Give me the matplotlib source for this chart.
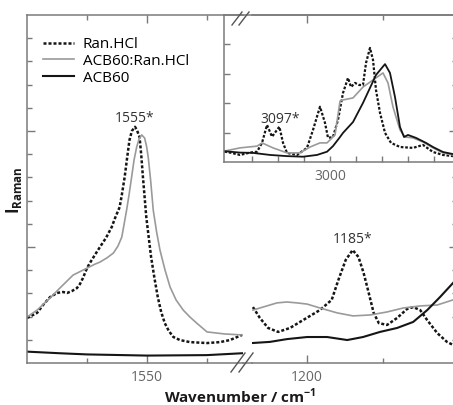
import matplotlib
matplotlib.use("Agg")
import matplotlib.pyplot as plt
from matplotlib.lines import Line2D
from matplotlib.ticker import FixedLocator, NullFormatter, FixedFormatter

plt.rcParams["font.family"] = ["Open Sans", "DejaVu Sans"]
plt.rcParams["mathtext.fontset"] = "custom"
plt.rcParams["mathtext.rm"] = "Open Sans"
plt.rcParams["mathtext.bf"] = "Open Sans:bold"

# ---------------- data ----------------
series_names = ["Ran.HCl", "ACB60:Ran.HCl", "ACB60"]

# 1600-1510 cm-1 window
lo_wn_ran = [1600.0, 1595.8, 1593.3, 1590.4, 1587.5, 1585.0, 1583.3, 1581.3, 1579.2,
             1577.9, 1576.7, 1575.0, 1573.8, 1571.7, 1569.6, 1567.1, 1564.7, 1563.3,
             1561.4, 1560.5, 1559.3, 1558.4, 1557.3, 1556.3, 1555.0, 1554.2, 1553.1,
             1552.4, 1551.7, 1551.0, 1550.3, 1549.3, 1548.3, 1546.9, 1545.5, 1544.1,
             1542.6, 1540.9, 1539.0, 1536.3, 1532.1, 1525.0, 1519.6, 1515.4, 1510.4]
lo_i_ran = [1.94, 2.16, 2.50, 2.84, 3.02, 3.06, 3.02, 3.10, 3.23,
            3.41, 3.66, 4.09, 4.31, 4.66, 5.00, 5.39, 5.86, 6.25,
            6.72, 7.24, 8.02, 8.75, 9.61, 10.00, 10.18, 10.04, 9.74,
            8.97, 8.02, 7.16, 6.29, 5.43, 4.57, 3.66, 2.84, 2.20,
            1.72, 1.38, 1.12, 0.99, 0.90, 0.86, 0.90, 0.99, 1.21]
lo_wn_mix = [1600.0, 1595.8, 1590.4, 1586.3, 1580.8, 1575.0, 1571.7, 1569.6, 1566.7,
             1564.0, 1562.1, 1560.5, 1559.6, 1558.5, 1557.5, 1556.4, 1555.4, 1554.3,
             1553.3, 1552.2, 1551.0, 1550.2, 1549.5, 1548.5, 1547.4, 1546.0, 1544.6,
             1542.5, 1540.4, 1537.9, 1534.9, 1532.1, 1529.3, 1525.0, 1517.5, 1510.4]
lo_i_mix = [1.98, 2.28, 2.80, 3.23, 3.79, 4.09, 4.26, 4.35, 4.53,
            4.74, 5.04, 5.43, 5.95, 6.59, 7.24, 8.02, 8.75, 9.31,
            9.66, 9.83, 9.70, 9.35, 8.88, 7.89, 6.59, 5.65, 4.87,
            4.01, 3.28, 2.72, 2.28, 1.98, 1.72, 1.34, 1.25, 1.21]
lo_wn_acb = [1600.0, 1586.3, 1575.0, 1550.0, 1525.0, 1510.4]
lo_i_acb = [0.49, 0.42, 0.37, 0.32, 0.34, 0.42]

# 1218-1151 cm-1 window
hi_wn_ran = [1217.8, 1215.5, 1212.8, 1209.5, 1205.6, 1201.3, 1195.8, 1191.9, 1189.7,
             1187.3, 1185.0, 1183.1, 1181.4, 1179.8, 1178.1, 1176.4, 1173.7, 1170.4,
             1167.1, 1165.1, 1162.8, 1160.5, 1157.2, 1154.0, 1152.0]
hi_i_ran = [2.41, 1.94, 1.51, 1.34, 1.51, 1.85, 2.28, 2.72, 3.58,
            4.44, 4.87, 4.57, 3.88, 3.06, 2.16, 1.72, 1.64, 1.94,
            2.33, 2.41, 2.28, 1.85, 1.29, 0.91, 0.78]
hi_wn_mix = [1217.8, 1214.5, 1209.9, 1206.6, 1203.3, 1200.0, 1195.7, 1190.1, 1184.9,
             1179.3, 1173.7, 1168.4, 1162.8, 1157.2, 1152.0]
hi_i_mix = [2.28, 2.41, 2.59, 2.63, 2.59, 2.54, 2.37, 2.16, 2.03,
            2.07, 2.20, 2.37, 2.46, 2.50, 2.72]
hi_wn_acb = [1218.1, 1212.2, 1206.6, 1200.0, 1193.4, 1186.8, 1181.6, 1176.0, 1170.4,
             1165.1, 1160.5, 1156.3, 1152.0]
hi_i_acb = [0.86, 0.91, 1.03, 1.12, 1.12, 0.99, 1.12, 1.34, 1.51,
            1.77, 2.28, 2.84, 3.45]

# 3200-2760 cm-1 window (inset)
ch_wn_ran = [3210.7, 3191.6, 3172.4, 3153.3, 3139.8, 3130.3, 3120.7, 3111.1, 3097.0,
             3090.0, 3082.4, 3063.2, 3044.1, 3032.6, 3019.2, 3009.6, 3003.8, 2994.3,
             2984.7, 2975.1, 2965.5, 2959.8, 2952.1, 2944.4, 2936.8, 2931.0, 2923.4,
             2917.6, 2911.9, 2904.2, 2894.6, 2883.1, 2865.9, 2841.0, 2821.8, 2802.7,
             2783.5, 2764.4]
ch_i_ran = [0.38, 0.32, 0.24, 0.32, 0.35, 0.65, 1.26, 0.86, 1.20,
            0.65, 0.31, 0.24, 0.48, 1.09, 1.88, 1.33, 0.82, 0.85,
            1.43, 2.35, 2.86, 2.55, 2.69, 2.62, 2.62, 3.37, 3.88,
            3.47, 2.45, 1.67, 0.99, 0.65, 0.51, 0.48, 0.58, 0.34,
            0.24, 0.20]
ch_wn_mix = [3210.7, 3172.4, 3139.8, 3130.3, 3109.2, 3082.4, 3057.5, 3038.3, 3019.2,
             3005.7, 2990.4, 2980.8, 2975.1, 2955.9, 2936.8, 2917.6, 2898.5, 2888.9,
             2879.3, 2865.9, 2856.3, 2841.0, 2821.8, 2802.7, 2783.5, 2764.4]
ch_i_mix = [0.34, 0.48, 0.54, 0.65, 0.48, 0.31, 0.31, 0.51, 0.65,
            0.65, 0.92, 2.07, 2.11, 2.18, 2.55, 2.79, 3.03, 2.69,
            1.87, 1.09, 0.85, 0.82, 0.68, 0.48, 0.31, 0.24]
ch_wn_acb = [3210.7, 3172.4, 3147.5, 3114.9, 3082.4, 3051.7, 3024.9, 3005.7, 2994.3,
             2980.8, 2975.1, 2955.9, 2936.8, 2923.4, 2911.9, 2894.6, 2885.1, 2875.5,
             2865.9, 2858.2, 2850.6, 2835.2, 2816.1, 2802.7, 2783.5, 2764.4]
ch_i_acb = [0.38, 0.32, 0.31, 0.24, 0.20, 0.18, 0.24, 0.35, 0.54,
            0.85, 0.99, 1.36, 2.01, 2.52, 2.96, 3.33, 3.03, 2.21,
            1.19, 0.85, 0.92, 0.82, 0.65, 0.51, 0.34, 0.27]

peak_labels = [("1555*", 1555, 10.39), ("1185*", 1185, 5.17), ("3097*", 3095, 1.33)]

# ---------------- styling ----------------
W, H = 453, 405
SPINE = "#7a7a7a"
TICKLBL = "#666666"
DARK = "#151515"
GREY = "#9a9a9a"
dash_style = dict(color=DARK, lw=1.8, linestyle=(0, (1.2, 0.8)))
grey_style = dict(color=GREY, lw=1.2, linestyle="-")
black_style = dict(color=DARK, lw=1.5, linestyle="-")


def fx(px):
    return px / W


def fy(py):
    return 1 - py / H


def ax_rect(x0, y0, x1, y1):
    return [fx(x0), fy(y1), fx(x1) - fx(x0), fy(y0) - fy(y1)]


fig = plt.figure(figsize=(W / 100, H / 100), dpi=100)

ax_lo = fig.add_axes(ax_rect(27, 15, 243, 363))
ax_hi = fig.add_axes(ax_rect(252, 15, 457, 363))
ax_ch = fig.add_axes(ax_rect(224, 15, 457, 162))
ax_ch.set_facecolor("none")


def style_axes(ax, show):
    for side in ("left", "right", "top", "bottom"):
        ax.spines[side].set_visible(side in show)
        ax.spines[side].set_color(SPINE)
        ax.spines[side].set_linewidth(1.1)
    ax.tick_params(which="both", direction="in", color=SPINE, width=1.0,
                   labelsize=10, labelcolor=TICKLBL, pad=5)
    ax.tick_params(which="major", length=6)
    ax.tick_params(which="minor", length=3.6)


# low-wavenumber panel
ax_lo.plot(lo_wn_ran, lo_i_ran, **dash_style)
ax_lo.plot(lo_wn_mix, lo_i_mix, **grey_style)
ax_lo.plot(lo_wn_acb, lo_i_acb, **black_style)
ax_lo.set_xlim(1600, 1510)
ax_lo.set_ylim(0, 15)
style_axes(ax_lo, ("left", "top", "bottom"))
ax_lo.xaxis.set_major_locator(FixedLocator([1550]))
ax_lo.xaxis.set_minor_locator(FixedLocator([1575, 1525]))
ax_lo.yaxis.set_major_locator(FixedLocator([5, 10]))
ax_lo.yaxis.set_minor_locator(FixedLocator([v for v in range(1, 15) if v % 5]))
ax_lo.yaxis.set_major_formatter(NullFormatter())
ax_lo.tick_params(axis="x", which="both", top=True)
ax_lo.tick_params(axis="y", which="both", left=True, right=False)

# fingerprint panel
ax_hi.plot(hi_wn_ran, hi_i_ran, **dash_style)
ax_hi.plot(hi_wn_mix, hi_i_mix, **grey_style)
ax_hi.plot(hi_wn_acb, hi_i_acb, **black_style)
ax_hi.set_xlim(1218.1, 1150.7)
ax_hi.set_ylim(0, 15)
style_axes(ax_hi, ("right", "top", "bottom"))
ax_hi.xaxis.set_major_locator(FixedLocator([1200]))
ax_hi.xaxis.set_minor_locator(FixedLocator([1175]))
ax_hi.yaxis.set_major_locator(FixedLocator([5, 10]))
ax_hi.yaxis.set_minor_locator(FixedLocator([v for v in range(1, 15) if v % 5]))
ax_hi.yaxis.set_major_formatter(NullFormatter())
ax_hi.tick_params(axis="x", which="both", top=True)
ax_hi.tick_params(axis="y", which="both", left=False, right=True)

# C-H stretching inset
ax_ch.plot(ch_wn_ran, ch_i_ran, color=DARK, lw=1.6, linestyle=(0, (1.2, 0.8)))
ax_ch.plot(ch_wn_mix, ch_i_mix, color=GREY, lw=1.2)
ax_ch.plot(ch_wn_acb, ch_i_acb, color=DARK, lw=1.3)
ax_ch.set_xlim(3203.1, 2756.7)
ax_ch.set_ylim(0, 5)
style_axes(ax_ch, ("left", "top", "bottom"))
ch_ticks = [3150, 3100, 3050, 3000, 2950, 2900, 2850, 2800]
ax_ch.xaxis.set_major_locator(FixedLocator(ch_ticks))
ax_ch.xaxis.set_major_formatter(FixedFormatter(["", "", "", "3000", "", "", "", ""]))
ax_ch.yaxis.set_major_locator(FixedLocator([1, 2, 3, 4]))
ax_ch.yaxis.set_major_formatter(NullFormatter())
ax_ch.tick_params(axis="x", which="major", length=4.5, top=False)
ax_ch.tick_params(axis="y", which="major", length=4, right=False)

# peak annotations
for (txt, wn, val), ax in zip(peak_labels, (ax_lo, ax_hi, ax_ch)):
    ax.text(wn, val, txt, ha="center", va="baseline", fontsize=10, color="#333333")

# continuous baseline under the break
fig.add_artist(Line2D([fx(243), fx(252)], [fy(363), fy(363)], color=SPINE, lw=1.1))
# break marks
for x0 in (231, 239):
    fig.add_artist(Line2D([fx(x0), fx(x0 + 14)], [fy(372), fy(353)], color="#555555", lw=1.0))
for x0 in (232, 239):
    fig.add_artist(Line2D([fx(x0), fx(x0 + 10)], [fy(25), fy(12)], color="#555555", lw=1.0))

# legend
handles = [Line2D([], [], **dash_style), Line2D([], [], **grey_style),
           Line2D([], [], **black_style)]
fig.legend(handles, series_names, loc="upper left", bbox_to_anchor=(fx(43), fy(37)),
           bbox_transform=fig.transFigure, frameon=False, fontsize=11,
           handlelength=2.0, handletextpad=0.6, labelspacing=0.12, borderpad=0,
           borderaxespad=0)

# axis titles
fig.text(fx(240), fy(403), r"Wavenumber / cm$^{\mathbf{-1}}$", ha="center", va="baseline",
         fontsize=11, fontweight="bold", color="#1a1a1a")
fig.text(fx(14), fy(190), r"$\mathbf{I}_{\mathbf{Raman}}$", ha="center", va="center",
         rotation=90, fontsize=12, color="#1a1a1a")

fig.savefig("out.png", dpi=100)
